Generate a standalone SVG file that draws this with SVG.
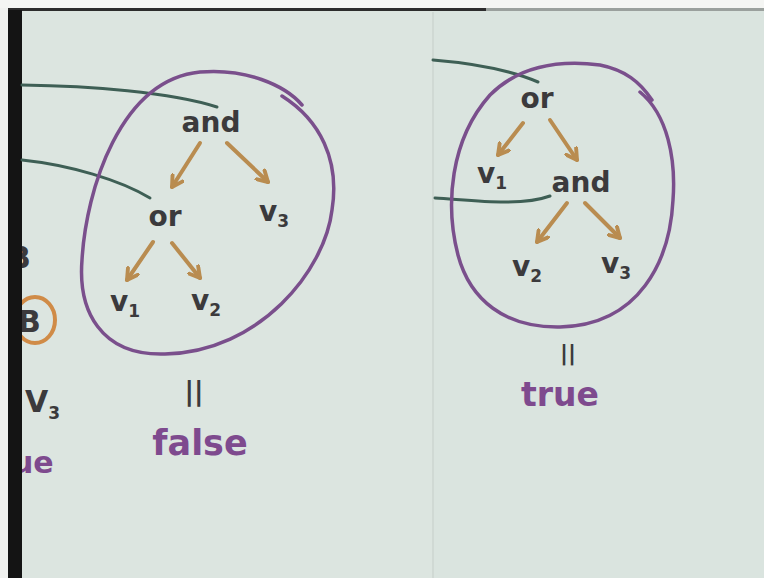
<svg xmlns="http://www.w3.org/2000/svg" width="764" height="578" viewBox="0 0 764 578">
<defs>
<marker id="ah" viewBox="0 0 10 10" refX="8" refY="5" markerWidth="15" markerHeight="15" markerUnits="userSpaceOnUse" orient="auto">
<path d="M1,1 L8,5 L1,9" fill="none" stroke="#b98c50" stroke-width="2.6" stroke-linecap="round" stroke-linejoin="round"/>
</marker>
<style>
.t{font-family:"DejaVu Sans","Liberation Sans",sans-serif;font-size:28px;font-weight:bold;fill:#3b3a3c}
.s{font-size:17px}
.loop{fill:none;stroke:#7a4f8c;stroke-width:3.5;stroke-linecap:round}
.arr{fill:none;stroke:#b98c50;stroke-width:4;stroke-linecap:round;marker-end:url(#ah)}
.con{fill:none;stroke:#3e5f55;stroke-width:3;stroke-linecap:round}
.p{font-family:"DejaVu Sans","Liberation Sans",sans-serif;font-weight:bold;fill:#7e4a8e}
</style>
</defs>
<rect width="764" height="578" fill="#dce5e0"/>
<rect x="433" y="10" width="331" height="568" fill="#dae4df"/>
<rect width="764" height="8" fill="#f4f5f3"/>
<rect x="8" y="8" width="478" height="3" fill="#2c2c2c"/>
<rect x="486" y="8" width="278" height="3" fill="#9aa09d"/>
<line x1="433" y1="12" x2="433" y2="578" stroke="#d0d9d4" stroke-width="2"/>

<g id="edge">
<text class="t" x="8" y="268" style="font-size:30px">B</text>
<ellipse cx="35" cy="320" rx="20" ry="23" fill="none" stroke="#d08b47" stroke-width="4"/>
<text class="t" x="18" y="332" style="font-size:30px">B</text>
<text class="t" x="25" y="412" style="font-size:30px">V<tspan class="s" dy="7">3</tspan></text>
<text class="p" x="12" y="473" style="font-size:30px">ue</text>
</g>
<rect x="0" y="8" width="8" height="570" fill="#f0f1ef"/>
<rect x="8" y="10" width="14" height="568" fill="#141414"/>

<g id="connectors">
<path class="con" d="M22,85 C90,86 170,92 217,107"/>
<path class="con" d="M22,160 C70,165 120,180 150,198"/>
<path class="con" d="M433,60 C470,63 510,70 538,82"/>
<path class="con" d="M435,198 C470,200 520,207 550,196"/>
<path class="arr" d="M200,143 L172,187"/>
<path class="arr" d="M227,143 L268,182"/>
<path class="arr" d="M153,242 L127,280"/>
<path class="arr" d="M172,243 L200,278"/>
<path class="arr" d="M523,123 L498,155"/>
<path class="arr" d="M550,120 L577,160"/>
<path class="arr" d="M567,203 L537,242"/>
<path class="arr" d="M585,203 L620,238"/>
</g>

<g id="tree-left">
<path class="loop" d="M282,96 C320,120 340,160 332,210 C325,270 260,352 165,354 C100,356 78,310 82,260 C86,190 120,80 200,72 C245,68 285,85 302,105"/>
<g id="L-and"><text class="t" x="211" y="132" text-anchor="middle">and</text></g>
<g id="L-or"><text class="t" x="165" y="226" text-anchor="middle">or</text></g>
<g id="L-v3"><text class="t" x="259" y="221">v<tspan class="s" dy="6">3</tspan></text></g>
<g id="L-v1"><text class="t" x="110" y="311">v<tspan class="s" dy="6">1</tspan></text></g>
<g id="L-v2"><text class="t" x="191" y="310">v<tspan class="s" dy="6">2</tspan></text></g>
<text class="t" x="194" y="400" text-anchor="middle" style="font-size:26px">||</text>
<text class="p" x="200" y="455" text-anchor="middle" style="font-size:35px">false</text>
</g>

<g id="tree-right">
<path class="loop" d="M640,92 C668,115 676,160 673,200 C670,260 640,325 560,327 C505,328 470,300 458,255 C445,205 450,140 490,95 C520,65 560,60 600,65 C625,70 640,82 652,100"/>
<g id="R-or"><text class="t" x="537" y="108" text-anchor="middle">or</text></g>
<g id="R-v1"><text class="t" x="477" y="183">v<tspan class="s" dy="6">1</tspan></text></g>
<g id="R-and"><text class="t" x="581" y="192" text-anchor="middle">and</text></g>
<g id="R-v2"><text class="t" x="512" y="276">v<tspan class="s" dy="6">2</tspan></text></g>
<g id="R-v3"><text class="t" x="601" y="273">v<tspan class="s" dy="6">3</tspan></text></g>
<text class="t" x="568" y="360" text-anchor="middle" style="font-size:22px">||</text>
<text class="p" x="560" y="406" text-anchor="middle" style="font-size:33px">true</text>
</g>
</svg>
